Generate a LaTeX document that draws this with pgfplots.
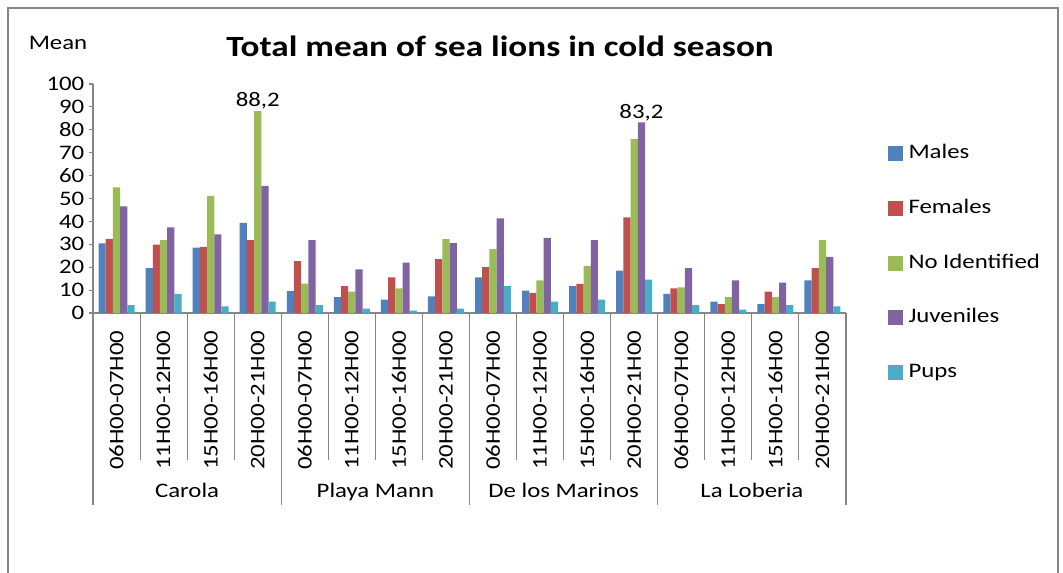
\documentclass[border=0pt]{standalone}
\usepackage{pgfplots}
\usepackage{pgfplotstable}
\pgfplotsset{compat=1.18}
\usepackage{fontspec}
\setmainfont[FakeStretch=1.2]{Carlito}
\definecolor{cM}{HTML}{4F81BD}
\definecolor{cF}{HTML}{C0504D}
\definecolor{cN}{HTML}{9BBB59}
\definecolor{cJ}{HTML}{8064A2}
\definecolor{cP}{HTML}{4BACC6}
\definecolor{axgray}{HTML}{868686}
\newcommand\fs{\fontsize{15.5}{18}\selectfont}
\pgfplotstableread{
x M F N J P
0 30.4 32.4 54.9 46.6 3.4
1 19.6 29.9 31.8 37.4 8.3
2 28.5 28.9 51.1 34.3 2.9
3 39.3 31.8 88.2 55.5 5.0
4 9.5 22.6 12.8 31.8 3.4
5 6.9 11.7 9.3 19.1 1.9
6 5.8 15.6 10.8 22.0 1.0
7 7.3 23.5 32.3 30.5 1.9
8 15.6 20.0 27.9 41.3 11.7
9 9.8 8.8 14.2 32.8 5.0
10 11.7 12.7 20.6 31.8 5.8
11 18.5 41.8 75.9 83.2 14.6
12 8.3 10.7 11.2 19.6 3.4
13 5.0 3.9 6.9 14.2 1.5
14 3.9 9.3 6.9 13.3 3.4
15 14.2 19.6 31.8 24.5 2.9
}\data
\begin{document}
\begin{tikzpicture}[x=0.75pt,y=0.75pt]
\path[use as bounding box] (0,0) rectangle (1063,573);
\coordinate (O) at (93,260);
\draw[axgray, line width=1pt] (8,0) -- (8,565) -- (1058,565) -- (1058,0);
\node[font=\fontsize{22}{26}\selectfont\bfseries] at (500,527) {Total mean of sea lions in cold season};
\node[font=\fs] at (58,530) {Mean};
\begin{axis}[
  at={(O)}, anchor=south west,
  scale only axis, width=564.75pt, height=171.75pt,
  xmin=-0.5, xmax=15.5, ymin=0, ymax=100,
  ybar, bar width=0.153,
  axis x line*=bottom, axis y line*=left,
  axis line style={-, draw=axgray, line width=0.8pt},
  ytick={0,10,...,100},
  tick align=outside,
  major tick length=3pt,
  y tick style={draw=axgray, line width=0.8pt},
  x tick style={draw=none},
  xtick={0,...,15},
  xticklabels={06H00-07H00,11H00-12H00,15H00-16H00,20H00-21H00,06H00-07H00,11H00-12H00,15H00-16H00,20H00-21H00,06H00-07H00,11H00-12H00,15H00-16H00,20H00-21H00,06H00-07H00,11H00-12H00,15H00-16H00,20H00-21H00},
  xticklabel style={rotate=90, anchor=east, font=\fs, inner sep=0pt},
  xticklabel shift=10pt,
  yticklabel style={font=\fs},
  /pgf/number format/assume math mode=true,
  clip=false,
  legend style={at={(1.056,0.740)}, anchor=north west, draw=none, fill=none,
    inner sep=0pt, outer sep=0pt, font=\fs, row sep=25.5pt,
    nodes={text height=11pt, text depth=3.5pt, inner sep=0.5pt},
    /tikz/every odd column/.append style={column sep=3.5pt}},
  legend cell align=left,
  legend image code/.code={\fill[#1] (0pt,-5.6pt) rectangle (11.25pt,5.6pt);},
]
\addplot[fill=cM, draw=none, bar shift=-0.306] table[x=x,y=M]{\data};
\addlegendentry{Males}
\addplot[fill=cF, draw=none, bar shift=-0.153] table[x=x,y=F]{\data};
\addlegendentry{Females}
\addplot[fill=cN, draw=none, bar shift=0] table[x=x,y=N]{\data};
\addlegendentry{No Identified}
\addplot[fill=cJ, draw=none, bar shift=0.153] table[x=x,y=J]{\data};
\addlegendentry{Juveniles}
\addplot[fill=cP, draw=none, bar shift=0.306] table[x=x,y=P]{\data};
\addlegendentry{Pups}
\node[font=\fs, anchor=south, inner sep=1pt] at (axis cs:3,88.2) {88,2};
\node[font=\fs, anchor=south, inner sep=1pt] at (axis cs:11.153,83.2) {83,2};
\end{axis}
\foreach \k in {1,2,3,5,6,7,9,10,11,13,14,15} {\draw[axgray, line width=0.8pt] (93+\k*47.0625,260) -- (93+\k*47.0625,113);}
\foreach \k in {0,4,8,12,16} {\draw[axgray, line width=0.8pt] (93+\k*47.0625,260) -- (93+\k*47.0625,68);}
\node[font=\fs, anchor=base] at (93+2*47.0625,75) {Carola};
\node[font=\fs, anchor=base] at (93+6*47.0625,75) {Playa Mann};
\node[font=\fs, anchor=base] at (93+10*47.0625,75) {De los Marinos};
\node[font=\fs, anchor=base] at (93+14*47.0625,75) {La Loberia};
\end{tikzpicture}
\end{document}
